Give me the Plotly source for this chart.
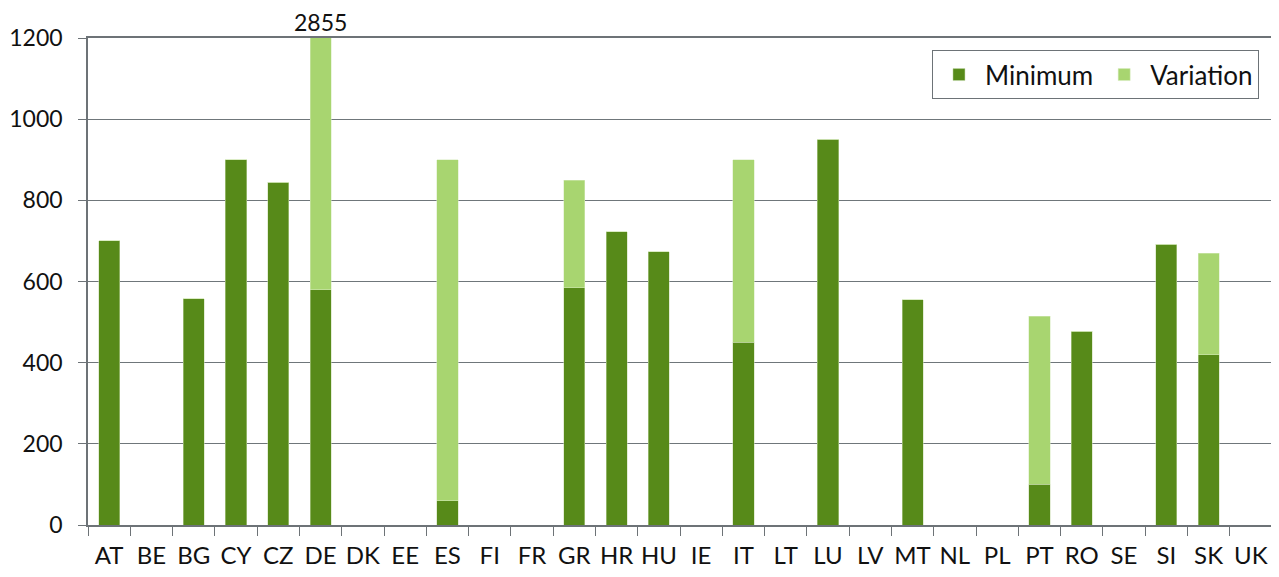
import plotly.graph_objects as go

countries = ["AT","BE","BG","CY","CZ","DE","DK","EE","ES","FI","FR","GR","HR","HU","IE",
             "IT","LT","LU","LV","MT","NL","PL","PT","RO","SE","SI","SK","UK"]
minimum = [700,0,557,900,845,580,0,0,60,0,0,585,722,673,0,
           450,0,950,0,555,0,0,100,478,0,692,420,0]
variation = [0,0,0,0,0,2275,0,0,840,0,0,265,0,0,0,
             450,0,0,0,0,0,0,415,0,0,0,250,0]
de_label = "2855"

dark = "#578A19"
light = "#A8D570"
FONT = "Lato"

fig = go.Figure()
fig.add_trace(go.Bar(x=countries, y=minimum, name="Minimum",
                     marker=dict(color=dark, line=dict(color="#c9dcb0", width=0.5))))
fig.add_trace(go.Bar(x=countries, y=variation, name="Variation",
                     marker=dict(color=light, line=dict(color="#d8ecc0", width=0.5))))

fig.add_annotation(x="DE", y=1200, yref="y", text=de_label, showarrow=False,
                   yanchor="bottom", yshift=0, font=dict(family=FONT, size=23, color="#111"))

fig.update_layout(
    barmode="stack", bargap=0.5,
    width=1271, height=569,
    margin=dict(l=80, r=7, t=30, b=52, autoexpand=False),
    paper_bgcolor="white", plot_bgcolor="white",
    font=dict(family=FONT, size=24, color="#111"),
    showlegend=True,
    legend=dict(orientation="h", x=0.989, xanchor="right", y=0.975, yanchor="top",
                bordercolor="#6d7377", borderwidth=1, bgcolor="white",
                font=dict(family=FONT, size=26, color="#111"),
                itemwidth=42, traceorder="normal"),
    xaxis=dict(showline=True, linecolor="#6d7377", linewidth=1.5, mirror=True,
               ticks="outside", tickson="boundaries", ticklen=9, tickcolor="#6d7377",
               showgrid=False, tickangle=0, automargin=False, ticklabelstandoff=8,
               tickfont=dict(family=FONT, size=24)),
    yaxis=dict(range=[0, 1200], tickvals=[0,200,400,600,800,1000,1200],
               showline=True, linecolor="#6d7377", linewidth=1.5, mirror=True,
               ticks="outside", ticklen=8, tickcolor="#6d7377", automargin=False,
               ticklabelstandoff=11,
               showgrid=True, gridcolor="#6f767a", gridwidth=1,
               tickfont=dict(family=FONT, size=23), zeroline=False),
)
fig.write_html("out.html")
